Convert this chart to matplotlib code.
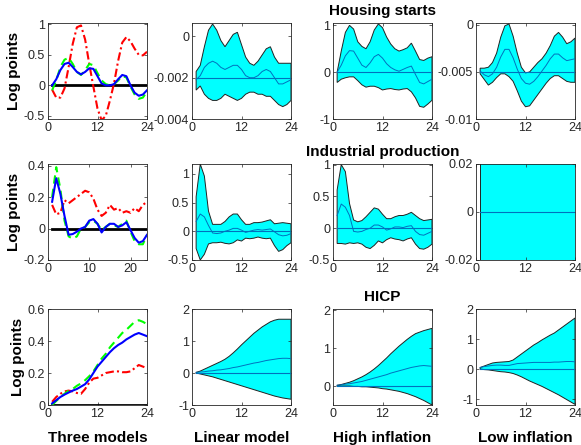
import numpy as np
import matplotlib
matplotlib.use("Agg")
import matplotlib.pyplot as plt
from matplotlib.ticker import FuncFormatter

plt.rcParams['font.family'] = ['Liberation Sans', 'DejaVu Sans']
plt.rcParams['axes.unicode_minus'] = False

h = np.arange(1, 25)

# ---- Housing starts ----
hs_linear = [-0.07, -0.2, -0.2, -0.05, 0.3, 0.68, 0.95, 0.98, 0.75, 0.35, -0.02, -0.38,
             -0.57, -0.5, -0.25, 0.03, 0.4, 0.7, 0.79, 0.72, 0.6, 0.5, 0.49, 0.55]
hs_high = [0.0, 0.1, 0.25, 0.35, 0.37, 0.3, 0.22, 0.18, 0.22, 0.28, 0.27, 0.15,
           0.03, 0.0, 0.0, 0.02, 0.1, 0.17, 0.15, 0.0, -0.12, -0.17, -0.15, -0.08]
hs_low = [-0.08, 0.08, 0.3, 0.42, 0.45, 0.35, 0.22, 0.17, 0.25, 0.35, 0.33, 0.2,
          0.08, 0.02, 0.0, 0.02, 0.08, 0.15, 0.13, -0.02, -0.15, -0.22, -0.2, -0.1]

hs_lin_up = [-0.0017, -0.0014, -0.0005, 0.0003, 0.0006, 0.0003, -0.0002, -0.0005, -0.0002, 0.0001, 0.0002, -0.0004,
             -0.001, -0.0013, -0.0014, -0.0012, -0.0009, -0.0006, -0.0005, -0.001, -0.0013, -0.0013, -0.0013, -0.0013]
hs_lin_lo = [-0.0026, -0.0024, -0.0028, -0.003, -0.0031, -0.0031, -0.003, -0.0028, -0.0029, -0.003, -0.0031, -0.003,
             -0.0028, -0.0027, -0.0027, -0.0028, -0.0028, -0.0029, -0.0029, -0.0031, -0.0033, -0.0034, -0.0033, -0.0031]
hs_lin_md = [-0.0021, -0.0019, -0.0015, -0.0013, -0.0012, -0.0013, -0.0015, -0.0016, -0.0015, -0.0014, -0.0014, -0.0016,
             -0.0019, -0.002, -0.002, -0.0019, -0.0017, -0.0016, -0.0017, -0.002, -0.0023, -0.0023, -0.0022, -0.0021]

hs_hi_up = [0.0, 0.45, 0.85, 1.0, 0.92, 0.65, 0.55, 0.5, 0.65, 0.9, 1.03, 0.95,
            0.75, 0.6, 0.5, 0.45, 0.48, 0.52, 0.62, 0.45, 0.27, 0.25, 0.3, 0.33]
hs_hi_lo = [-0.22, -0.15, -0.12, -0.1, -0.1, -0.18, -0.27, -0.32, -0.3, -0.3, -0.33, -0.38,
            -0.36, -0.35, -0.37, -0.38, -0.36, -0.35, -0.42, -0.55, -0.73, -0.75, -0.68, -0.6]
hs_hi_md = [0.0, 0.15, 0.35, 0.46, 0.45, 0.3, 0.15, 0.1, 0.2, 0.33, 0.38, 0.3,
            0.18, 0.1, 0.05, 0.02, 0.06, 0.1, 0.13, -0.05, -0.22, -0.25, -0.2, -0.15]

hs_lo_up = [-0.0046, -0.0046, -0.0045, -0.004, -0.003, -0.0013, -0.0001, 0.0001, -0.0012, -0.003, -0.0045, -0.0051,
            -0.005, -0.0045, -0.004, -0.0036, -0.003, -0.0022, -0.0012, -0.0008, -0.0013, -0.002, -0.0018, -0.0014]
hs_lo_lo = [-0.0052, -0.0058, -0.0064, -0.0061, -0.0056, -0.0052, -0.0052, -0.0055, -0.006, -0.007, -0.0081, -0.0087,
            -0.0086, -0.008, -0.0074, -0.0068, -0.0062, -0.0057, -0.0054, -0.0054, -0.0057, -0.006, -0.0061, -0.0061]
hs_lo_md = [-0.0049, -0.0053, -0.0055, -0.0052, -0.0045, -0.0034, -0.0026, -0.0026, -0.0035, -0.0047, -0.0057, -0.0062,
            -0.0063, -0.006, -0.0055, -0.0049, -0.0043, -0.0036, -0.0031, -0.0031, -0.0035, -0.0038, -0.0037, -0.0036]

# ---- Industrial production ----
ip_linear = [0.15, 0.09, 0.1, 0.18, 0.16, 0.18, 0.2, 0.22, 0.24, 0.23, 0.19, 0.12,
             0.08, 0.1, 0.15, 0.12, 0.13, 0.1, 0.11, 0.1, 0.13, 0.11, 0.15, 0.17]
ip_high = [0.17, 0.32, 0.22, 0.08, -0.04, -0.035, -0.02, 0.0, 0.01, 0.05, 0.06, 0.03,
           -0.025, 0.01, 0.03, 0.03, 0.01, 0.02, 0.04, -0.01, -0.06, -0.09, -0.08, -0.04]
ip_low = [0.2, 0.39, 0.25, 0.05, -0.05, -0.065, -0.05, 0.0, 0.01, 0.04, 0.05, 0.03,
          -0.01, 0.01, 0.03, 0.02, 0.01, 0.03, 0.05, -0.02, -0.08, -0.1, -0.1, -0.04]

ip_lin_up = [0.6, 1.17, 0.96, 0.35, 0.12, 0.12, 0.12, 0.17, 0.25, 0.3, 0.3, 0.2,
             0.12, 0.12, 0.15, 0.15, 0.16, 0.18, 0.2, 0.13, 0.14, 0.15, 0.14, 0.13]
ip_lin_lo = [-0.3, -0.5, -0.4, -0.22, -0.2, -0.2, -0.19, -0.21, -0.22, -0.2, -0.15, -0.17,
             -0.12, -0.13, -0.12, -0.1, -0.12, -0.13, -0.12, -0.25, -0.35, -0.32, -0.25, -0.2]
ip_lin_md = [0.17, 0.3, 0.25, 0.1, -0.03, -0.04, -0.03, 0.0, 0.02, 0.05, 0.05, 0.02,
             -0.02, 0.0, 0.02, 0.03, 0.02, 0.03, 0.04, -0.01, -0.06, -0.08, -0.07, -0.04]

ip_hi_up = [0.6, 1.0, 0.89, 0.39, 0.13, 0.1, 0.12, 0.18, 0.25, 0.32, 0.3, 0.22,
            0.15, 0.15, 0.18, 0.2, 0.2, 0.22, 0.25, 0.2, 0.15, 0.12, 0.13, 0.14]
ip_hi_lo = [-0.24, -0.24, -0.25, -0.23, -0.24, -0.23, -0.25, -0.3, -0.32, -0.27, -0.2, -0.23,
            -0.18, -0.15, -0.17, -0.18, -0.2, -0.17, -0.15, -0.25, -0.32, -0.33, -0.3, -0.25]
ip_hi_md = [0.2, 0.38, 0.33, 0.2, -0.05, -0.06, -0.05, -0.02, 0.0, 0.05, 0.05, 0.02,
            -0.03, -0.01, 0.02, 0.02, 0.01, 0.03, 0.04, -0.05, -0.1, -0.11, -0.08, -0.05]

# low-inflation band runs far outside the +/-0.02 window
ip_lo_up = [1.0] * 24
ip_lo_lo = [-1.0] * 24
ip_lo_md = [0.0] * 24

# ---- HICP ----
hicp_linear = [0.02, 0.05, 0.07, 0.085, 0.09, 0.085, 0.075, 0.07, 0.1, 0.14, 0.165, 0.17,
               0.185, 0.2, 0.205, 0.21, 0.21, 0.205, 0.205, 0.21, 0.23, 0.25, 0.24, 0.23]
hicp_high = [0.01, 0.03, 0.05, 0.065, 0.078, 0.09, 0.1, 0.115, 0.13, 0.16, 0.2, 0.24,
             0.27, 0.3, 0.33, 0.355, 0.375, 0.39, 0.41, 0.425, 0.44, 0.45, 0.44, 0.43]
hicp_low = [0.0, 0.025, 0.05, 0.07, 0.09, 0.1, 0.12, 0.135, 0.155, 0.18, 0.21, 0.25,
            0.29, 0.32, 0.36, 0.39, 0.42, 0.45, 0.47, 0.495, 0.52, 0.53, 0.52, 0.505]

hicp_lin_up = [0.02, 0.06, 0.12, 0.18, 0.24, 0.3, 0.36, 0.43, 0.52, 0.63, 0.75, 0.88,
               1.0, 1.12, 1.24, 1.34, 1.44, 1.52, 1.6, 1.65, 1.68, 1.68, 1.68, 1.68]
hicp_lin_lo = [0.0, -0.03, -0.06, -0.09, -0.12, -0.16, -0.2, -0.24, -0.28, -0.32, -0.36, -0.4,
               -0.44, -0.48, -0.52, -0.56, -0.6, -0.64, -0.68, -0.72, -0.75, -0.78, -0.8, -0.82]
hicp_lin_md = [0.02, 0.03, 0.04, 0.06, 0.07, 0.09, 0.1, 0.12, 0.14, 0.17, 0.19, 0.22,
               0.25, 0.28, 0.31, 0.33, 0.36, 0.39, 0.41, 0.43, 0.45, 0.46, 0.46, 0.45]

hicp_hi_up = [0.02, 0.04, 0.07, 0.1, 0.14, 0.19, 0.24, 0.3, 0.37, 0.45, 0.54, 0.64,
              0.74, 0.85, 0.95, 1.05, 1.14, 1.23, 1.31, 1.38, 1.42, 1.46, 1.49, 1.52]
hicp_hi_lo = [0.0, 0.0, 0.0, 0.0, -0.01, -0.01, -0.02, -0.02, -0.03, -0.04, -0.05, -0.07,
              -0.08, -0.1, -0.12, -0.14, -0.17, -0.2, -0.24, -0.28, -0.33, -0.38, -0.44, -0.5]
hicp_hi_md = [0.02, 0.03, 0.05, 0.06, 0.08, 0.1, 0.12, 0.15, 0.18, 0.21, 0.24, 0.27,
              0.3, 0.34, 0.37, 0.4, 0.43, 0.46, 0.49, 0.51, 0.53, 0.54, 0.53, 0.52]

hicp_lo_up = [0.05, 0.1, 0.15, 0.2, 0.22, 0.23, 0.24, 0.25, 0.3, 0.4, 0.5, 0.6,
              0.7, 0.8, 0.88, 0.97, 1.05, 1.13, 1.2, 1.3, 1.4, 1.5, 1.6, 1.7]
hicp_lo_lo = [0.0, -0.02, -0.03, -0.05, -0.07, -0.09, -0.1, -0.12, -0.15, -0.2, -0.26, -0.33,
              -0.4, -0.46, -0.52, -0.58, -0.65, -0.72, -0.79, -0.86, -0.94, -1.02, -1.1, -1.18]
hicp_lo_md = [0.05, 0.08, 0.1, 0.12, 0.13, 0.13, 0.12, 0.12, 0.15, 0.18, 0.19, 0.2,
              0.21, 0.22, 0.22, 0.22, 0.22, 0.22, 0.23, 0.23, 0.24, 0.25, 0.25, 0.24]

row_titles = ["Housing starts", "Industrial production", "HICP"]
col_labels = ["Three models", "Linear model", "High inflation", "Low inflation"]

three = [(hs_linear, hs_high, hs_low), (ip_linear, ip_high, ip_low), (hicp_linear, hicp_high, hicp_low)]
bands = [
    [(hs_lin_up, hs_lin_lo, hs_lin_md, -0.002), (hs_hi_up, hs_hi_lo, hs_hi_md, 0.0), (hs_lo_up, hs_lo_lo, hs_lo_md, -0.005)],
    [(ip_lin_up, ip_lin_lo, ip_lin_md, 0.0), (ip_hi_up, ip_hi_lo, ip_hi_md, 0.0), (ip_lo_up, ip_lo_lo, ip_lo_md, 0.0)],
    [(hicp_lin_up, hicp_lin_lo, hicp_lin_md, 0.0), (hicp_hi_up, hicp_hi_lo, hicp_hi_md, 0.0), (hicp_lo_up, hicp_lo_lo, hicp_lo_md, 0.0)],
]

ylims = [[(-0.55, 1.02), (-0.004, 0.00065), (-1, 1.05), (-0.01, 0.0002)],
         [(-0.2, 0.41), (-0.5, 1.17), (-0.5, 1.01), (-0.02, 0.02)],
         [(0, 0.6), (-1, 2), (-0.5, 2.03), (-1.2, 2.0)]]
yticks = [[[-0.5, 0, 0.5, 1], [-0.004, -0.002, 0], [-1, 0, 1], [-0.01, -0.005, 0]],
          [[-0.2, 0, 0.2, 0.4], [-0.5, 0, 0.5, 1], [-0.5, 0, 0.5, 1], [-0.02, 0, 0.02]],
          [[0, 0.2, 0.4, 0.6], [-1, 0, 1, 2], [0, 1, 2], [-1, 0, 1, 2]]]

fig = plt.figure(figsize=(5.81, 4.45), dpi=100)
W, H = 581, 445
lefts = [48, 192, 333, 476]
bottoms = [119, 260, 405]
aw, ah = 99, 96
mblue = '#0072BD'
fmt = FuncFormatter(lambda v, p: '%g' % v)

for r in range(3):
    for c in range(4):
        ax = fig.add_axes([lefts[c] / W, 1 - bottoms[r] / H, aw / W, ah / H])
        if c == 0:
            lin, hi, lo = three[r]
            ax.plot(h, [0] * 24, color='black', lw=2)
            ax.plot(h, lin, color='#FF0000', lw=1.5, dashes=(4, 1.5, 1, 1.5))
            ax.plot(h, lo, color='#00FF00', lw=1.5, dashes=(4, 2.5))
            ax.plot(h, hi, color='#0000FF', lw=1.5)
            ax.set_ylabel("Log points", fontsize=11, fontweight='bold', labelpad=2)
        else:
            up, lo, md, base = bands[r][c - 1]
            poly_x = np.concatenate([h, h[::-1]])
            poly_y = np.concatenate([up, lo[::-1]])
            ax.fill(poly_x, poly_y, facecolor='#00FFFF', edgecolor='#222222', lw=0.7)
            ax.plot(h, [base] * 24, color=mblue, lw=0.8)
            ax.plot(h, md, color=mblue, lw=0.7)
        ax.set_xlim(0, 24)
        ax.set_ylim(*ylims[r][c])
        ax.set_yticks(yticks[r][c])
        ax.set_xticks([0, 10, 20] if (r == 1 and c == 0) else [0, 12, 24])
        ax.yaxis.set_major_formatter(fmt)
        ax.tick_params(direction='in', length=2.5, width=0.5, labelsize=9,
                       colors='#262626', top=True, right=True, pad=2)
        for s in ax.spines.values():
            s.set_linewidth(0.6)
            s.set_color('#262626')
        if c == 2:
            ax.set_title(row_titles[r], fontsize=11, fontweight='bold', pad=6)
        if r == 2:
            ax.set_xlabel(col_labels[c], fontsize=11, fontweight='bold', labelpad=8)

fig.savefig("out.png", dpi=100)
